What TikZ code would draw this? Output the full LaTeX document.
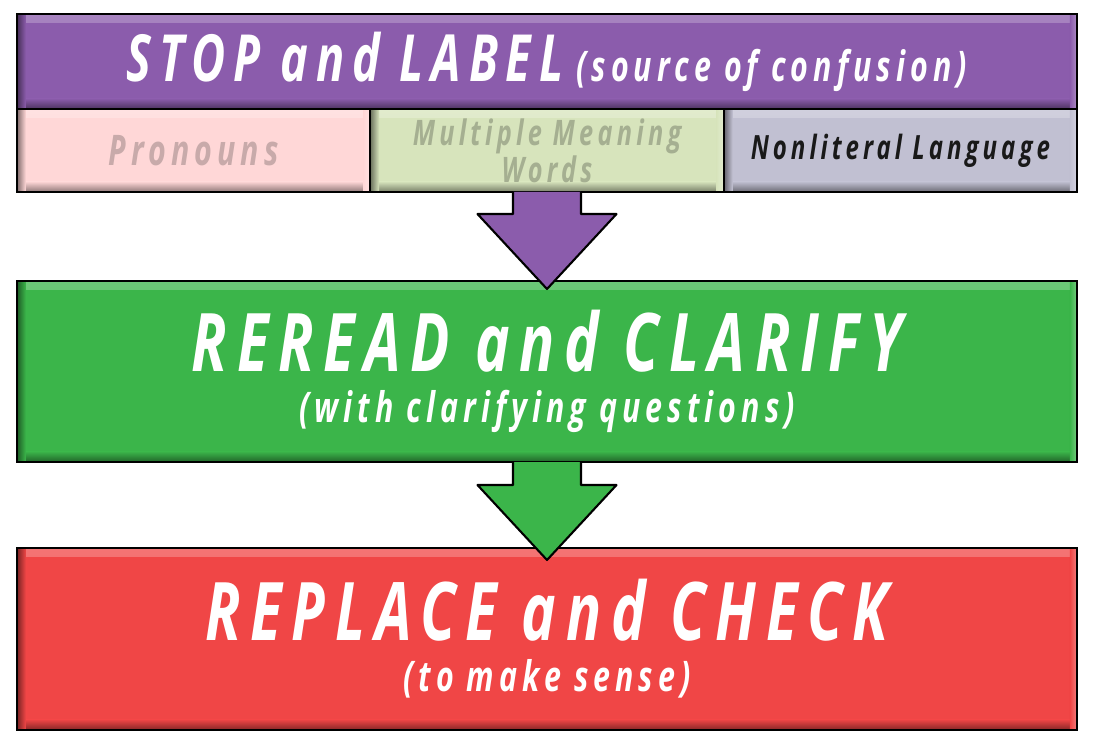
\documentclass[tikz,border=0pt]{standalone}
\usepackage{fontspec}
\newfontfamily\posterfont[FakeStretch=0.72,LetterSpace=12]{Open Sans}
\usepackage{xcolor}
\definecolor{stepPurple}{RGB}{139,92,172}
\definecolor{stepGreen}{RGB}{59,181,74}
\definecolor{stepRed}{RGB}{240,70,70}
\definecolor{subPink}{RGB}{255,215,215}
\definecolor{subGreen}{RGB}{215,228,188}
\definecolor{subGray}{RGB}{193,192,210}
\definecolor{txtPink}{RGB}{200,170,170}
\definecolor{txtGreen}{RGB}{165,175,145}
\definecolor{txtDark}{RGB}{25,25,25}
\usetikzlibrary{positioning, calc}

\tikzset{
  bevel/.style={path picture={
    \shade[top color=#1!75!white, bottom color=#1]
      (path picture bounding box.north west) rectangle ([yshift=-5pt]path picture bounding box.north east);
    \shade[top color=#1, bottom color=#1!55!black]
      ([yshift=6pt]path picture bounding box.south west) rectangle (path picture bounding box.south east);
    \shade[left color=#1!50!black, right color=#1]
      (path picture bounding box.south west) rectangle ([xshift=5pt]path picture bounding box.north west);
    \shade[left color=#1, right color=#1!70!white]
      ([xshift=-4pt]path picture bounding box.south east) rectangle (path picture bounding box.north east);
  }},
  stepbox/.style={draw=black, line width=1.2pt, fill=#1, bevel=#1, outer sep=0pt,
    inner sep=0pt, minimum width=21.2cm, text=white, align=center,
    font=\posterfont\bfseries\itshape\fontsize{24}{26}\selectfont},
  subbox/.style={draw=black, line width=1.2pt, fill=#1, bevel=#1, outer sep=0pt,
    inner sep=0pt, minimum width=7.0667cm, minimum height=1.66cm, align=center,
    font=\posterfont\bfseries\itshape},
  downarrow/.style={draw=black, line width=1.2pt, line join=round, fill=#1},
}

\begin{document}
\begin{tikzpicture}
  \useasboundingbox (0,0) rectangle (21.98,14.92);

  % Step 1
  \node[stepbox=stepPurple, minimum height=1.9cm] (stop) at (10.94,13.69)
       {{\fontsize{37}{40}\selectfont STOP and LABEL} (source of confusion)};

  % Sources of confusion
  \node[subbox=subPink, anchor=north west, text=txtPink,
        font=\posterfont\bfseries\itshape\fontsize{24}{26}\selectfont] (pron) at (stop.south west)
       {Pronouns};
  \node[subbox=subGreen, right=0pt of pron, text=txtGreen,
        font=\posterfont\bfseries\itshape\fontsize{20}{16}\selectfont] (multi)
       {Multiple Meaning\\Words};
  \node[subbox=subGray, right=0pt of multi, text=txtDark,
        font=\posterfont\bfseries\itshape\fontsize{19}{20}\selectfont] (nonlit)
       {Nonliteral Language};

  % Step 2
  \node[stepbox=stepGreen, minimum height=3.62cm] (reread) at (10.94,7.49)
       {{\fontsize{46}{40}\selectfont REREAD and CLARIFY}\\[3pt]
        (with clarifying questions)};

  % Step 3
  \node[stepbox=stepRed, minimum height=3.64cm] (replace) at (10.94,2.14)
       {{\fontsize{46}{40}\selectfont REPLACE and CHECK}\\[3pt]
        (to make sense)};

  % Arrows
  \filldraw[downarrow=stepPurple] ([xshift=-0.68cm]multi.south) -- ++(0,-0.44) -- ++(-0.71,0)
       -- ++(1.39,-1.5) -- ++(1.39,1.5) -- ++(-0.71,0) -- ++(0,0.44);
  \filldraw[downarrow=stepGreen] ([xshift=-0.68cm]reread.south) -- ++(0,-0.46) -- ++(-0.71,0)
       -- ++(1.39,-1.5) -- ++(1.39,1.5) -- ++(-0.71,0) -- ++(0,0.46);
\end{tikzpicture}
\end{document}
